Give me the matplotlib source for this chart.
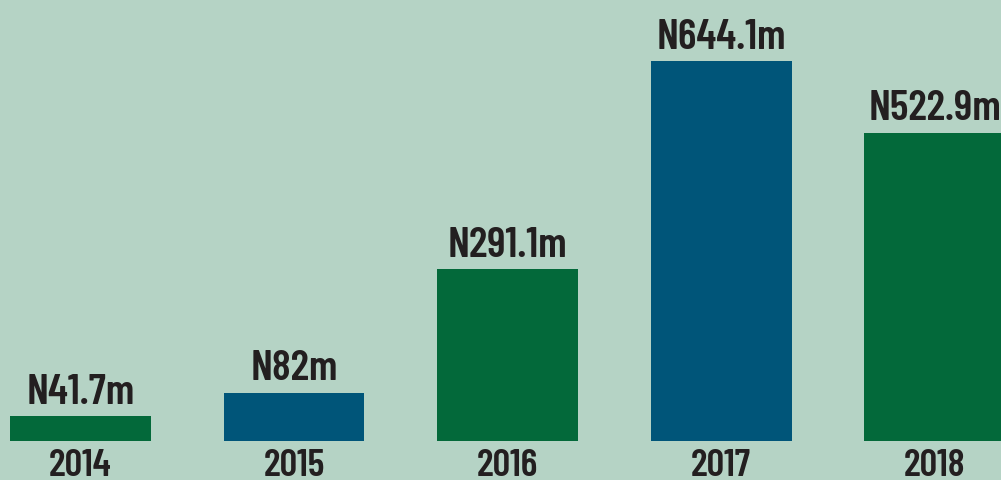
import matplotlib.pyplot as plt
from matplotlib import font_manager

years = ["2014", "2015", "2016", "2017", "2018"]
values = [41.7, 82, 291.1, 644.1, 522.9]
labels = ["N41.7m", "N82m", "N291.1m", "N644.1m", "N522.9m"]

green = "#03693a"
blue = "#005579"
bg = "#b5d3c5"
ink = "#231f20"
colors = [green, blue, green, blue, green]

# condensed bold face, closest to the newspaper type
wanted = ["BarlowCondensed-SemiBold.ttf", "FiraSansExtraCondensed-SemiBold.ttf",
          "AsapCondensed-SemiBold.ttf", "DejaVuSansCondensed-Bold.ttf"]
files = {f.fname.split("/")[-1]: f.fname for f in font_manager.fontManager.ttflist}
fp = None
for w in wanted:
    if w in files:
        fp = font_manager.FontProperties(fname=files[w])
        break
if fp is None:
    fp = font_manager.FontProperties(family="DejaVu Sans", weight="bold")

fig = plt.figure(figsize=(10.01, 4.8), dpi=100, facecolor=bg)
ax = fig.add_axes([0, 0, 1, 1])
ax.set_facecolor(bg)

x = range(len(years))
ax.bar(x, values, width=0.66, color=colors)

for i, v in enumerate(values):
    ax.annotate(labels[i], (i, v), xytext=(0, 3), textcoords="offset points",
                ha="center", va="bottom", fontproperties=fp, fontsize=31, color=ink)
    ax.annotate(years[i], (i, 0), xytext=(0, -6), textcoords="offset points",
                ha="center", va="top", fontproperties=fp, fontsize=28, color=ink)

ax.set_xlim(-0.377, 4.311)
ax.set_ylim(-66.1, 747.5)
ax.axis("off")

fig.savefig("out.png", dpi=100, facecolor=bg)
